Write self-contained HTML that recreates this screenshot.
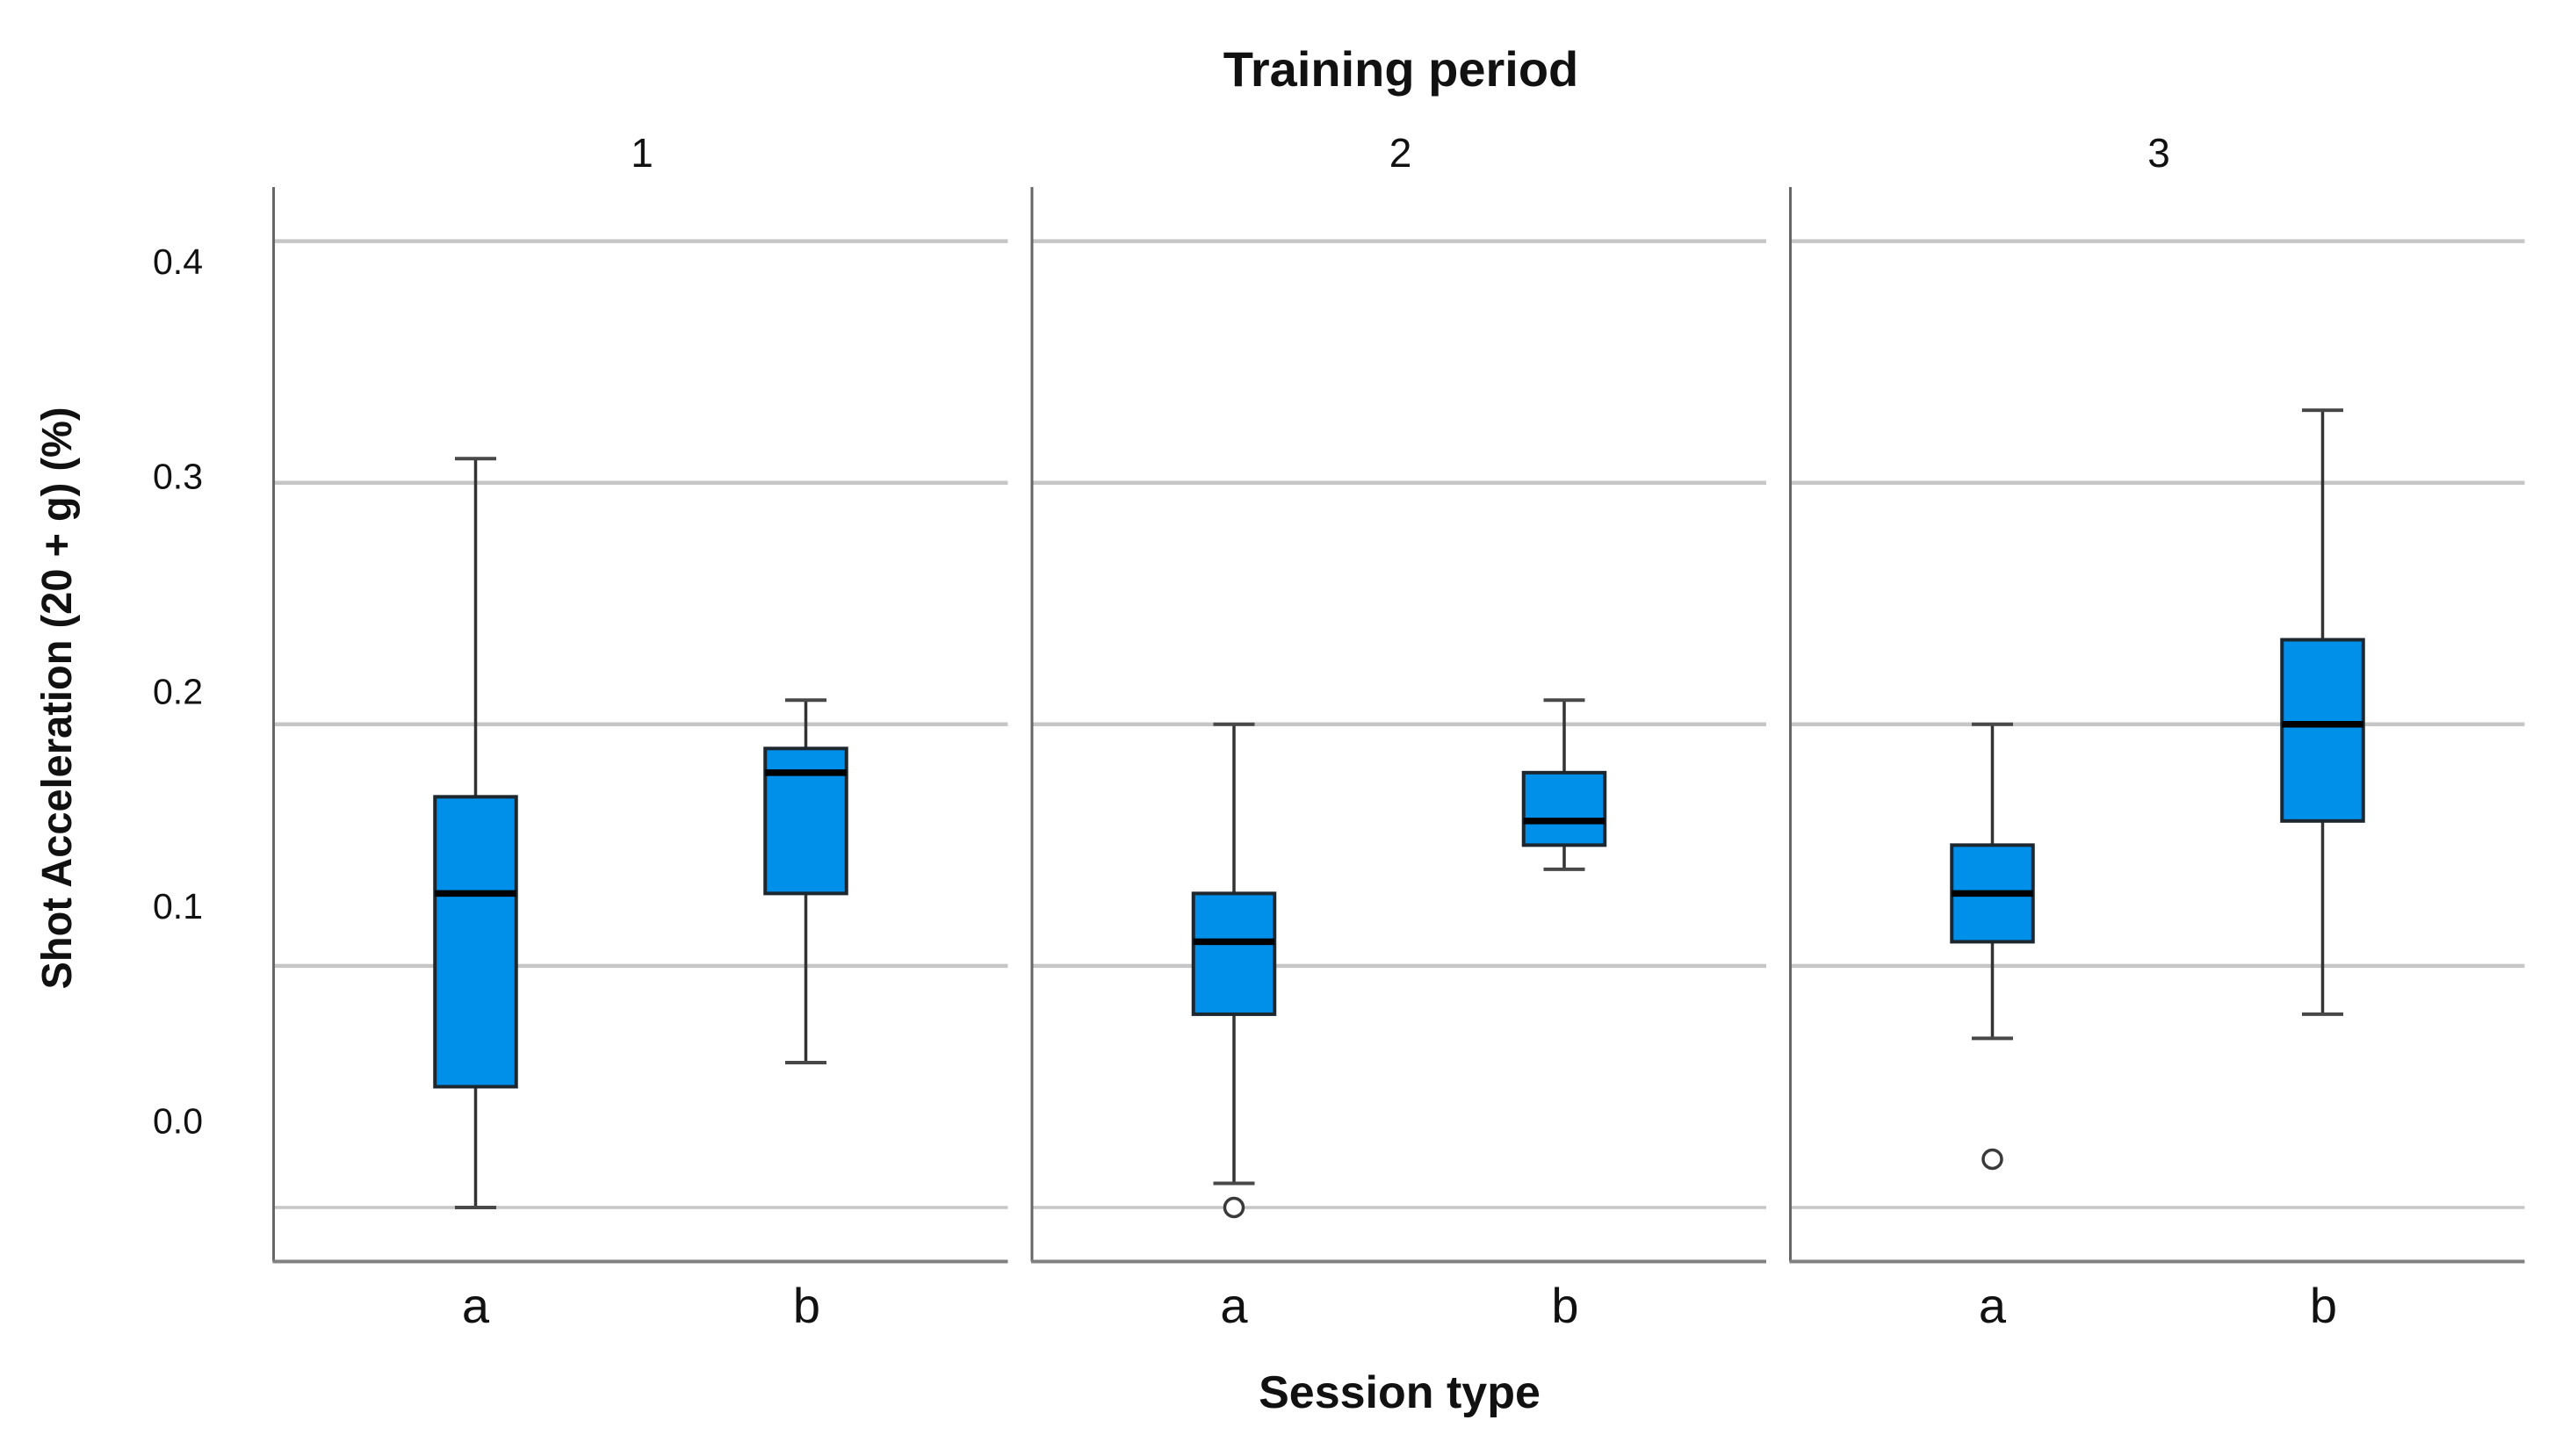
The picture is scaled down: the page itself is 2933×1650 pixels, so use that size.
<!DOCTYPE html>
<html lang="en">
<head>
<meta charset="utf-8">
<title>Shot Acceleration by Session Type and Training Period</title>
<style>
  html, body { margin: 0; padding: 0; background: #ffffff; }
  body { width: 2933px; height: 1650px; overflow: hidden; }
  svg { display: block; }
  text { font-family: "Liberation Sans", sans-serif; fill: #111111; }
</style>
</head>
<body>
<svg id="chart" xmlns="http://www.w3.org/2000/svg" width="2933" height="1650" viewBox="0 0 2933 1650">
  <text x="1595" y="98" font-size="56" font-weight="700" text-anchor="middle">Training period</text>
  <text x="1593.5" y="1603" font-size="52" font-weight="700" text-anchor="middle">Session type</text>
  <text transform="translate(81 1126.5) rotate(-90)" font-size="48" font-weight="700" textLength="663" lengthAdjust="spacingAndGlyphs">Shot Acceleration (20 + g) (%)</text>
</svg>
<script>
// Chart data (six boxes, ordered panel 1 a, 1 b, 2 a, 2 b, 3 a, 3 b)
const panels = ['1', '2', '3'];
const categories = ['a', 'b'];
const tickValues = [0.4, 0.3, 0.2, 0.1, 0.0];
const tickLabels = ['0.4', '0.3', '0.2', '0.1', '0.0'];
const whiskerHigh = [0.31, 0.21, 0.20, 0.21, 0.20, 0.33];
const quartile3 = [0.17, 0.19, 0.13, 0.18, 0.15, 0.235];
const medians = [0.13, 0.18, 0.11, 0.16, 0.13, 0.20];
const quartile1 = [0.05, 0.13, 0.08, 0.15, 0.11, 0.16];
const whiskerLow = [0.00, 0.06, 0.01, 0.14, 0.07, 0.08];
const outliers = [null, null, 0.00, null, 0.02, null];

// Axis functions
function yScale(v) { return 1375 - 2751 * v; }
// Tick labels sit on their own slightly compressed scale in the source figure
function yLabelScale(v) { return 1290.5 - 2446 * v; }
function panelLeft(p) { return 311.5 + p * 863.5; }
function xScale(p, c) { return panelLeft(p) + 230 + c * 376; }

const PANEL_W = 836;
const PLOT_TOP = 213;
const PLOT_BOTTOM = 1436.5;
const BOX_W = 92.5;
const CAP_W = 47;

const svg = document.getElementById('chart');
const NS = 'http://www.w3.org/2000/svg';

function make(tag, attrs, parent) {
  const node = document.createElementNS(NS, tag);
  Object.keys(attrs).forEach(function (k) { node.setAttribute(k, attrs[k]); });
  (parent || svg).appendChild(node);
  return node;
}

let el;

// Y tick labels
tickLabels.forEach(function (label, i) {
  el = make('text', { x: 231, y: yLabelScale(tickValues[i]), 'font-size': 41, 'text-anchor': 'end' });
  
  
  el.textContent = label;
});

panels.forEach(function (panel, p) {
  const left = panelLeft(p);

  // Panel header
  el = make('text', { x: left + PANEL_W / 2 + 1.5, y: 190, 'font-size': 46, 'text-anchor': 'middle' });
  
  
  el.textContent = panel;

  // Grid lines
  tickValues.forEach(function (t, i) {
    el = make('line', {
      x1: left, x2: left + PANEL_W, y1: yScale(t), y2: yScale(t),
      stroke: '#c6c6c6', 'stroke-width': i === tickValues.length - 1 ? 3.5 : 4.5
    });
    
    
  });

  // Category labels
  categories.forEach(function (cat, c) {
    el = make('text', { x: xScale(p, c) + (c === 1 ? 1 : 0), y: 1506, 'font-size': 56, 'text-anchor': 'middle' });
    
    
    el.textContent = cat;
  });

  // Box plots
  categories.forEach(function (cat, c) {
    const i = p * categories.length + c;
    const x = xScale(p, c);

    const g = make('g', {});
    
    

    el = make('line', { x1: x, x2: x, y1: yScale(whiskerHigh[i]), y2: yScale(whiskerLow[i]), stroke: '#333333', 'stroke-width': 3.5 }, g);
    
    

    el = make('line', { x1: x - CAP_W / 2, x2: x + CAP_W / 2, y1: yScale(whiskerHigh[i]), y2: yScale(whiskerHigh[i]), stroke: '#484848', 'stroke-width': 4 }, g);
    
    

    el = make('line', { x1: x - CAP_W / 2, x2: x + CAP_W / 2, y1: yScale(whiskerLow[i]), y2: yScale(whiskerLow[i]), stroke: '#484848', 'stroke-width': 4 }, g);
    
    

    el = make('rect', {
      x: x - BOX_W / 2, y: yScale(quartile3[i]), width: BOX_W,
      height: yScale(quartile1[i]) - yScale(quartile3[i]),
      fill: '#0090ea', stroke: '#1c2730', 'stroke-width': 4
    }, g);
    
    

    el = make('line', { x1: x - BOX_W / 2, x2: x + BOX_W / 2, y1: yScale(medians[i]), y2: yScale(medians[i]), stroke: '#000000', 'stroke-width': 7.5 }, g);
    
    

    if (outliers[i] !== null) {
      el = make('circle', { cx: x, cy: yScale(outliers[i]), r: 10.5, fill: '#ffffff', stroke: '#3a3a3a', 'stroke-width': 3.5 }, g);
      
      
    }
  });

  // Panel axes
  el = make('line', { x1: left, x2: left, y1: PLOT_TOP, y2: PLOT_BOTTOM, stroke: '#666666', 'stroke-width': 3 });
  
  

  el = make('line', { x1: left - 1, x2: left + PANEL_W, y1: PLOT_BOTTOM, y2: PLOT_BOTTOM, stroke: '#808080', 'stroke-width': 4 });
  
  
});
</script>
</body>
</html>
